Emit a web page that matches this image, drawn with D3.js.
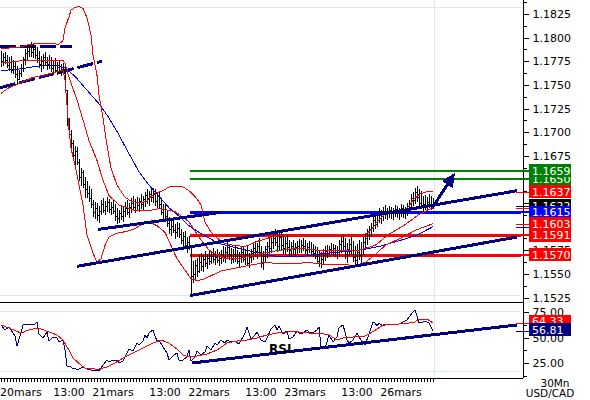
<!DOCTYPE html>
<html><head><meta charset="utf-8">
<script src="https://cdn.jsdelivr.net/npm/d3@7/dist/d3.min.js"></script>
<style>
body{margin:0;background:#fff}
svg{display:block}
text{font-family:"DejaVu Sans",Verdana,sans-serif}
</style>
</head><body>
<svg id="c" width="590" height="400"></svg>
<script>
// ---------- DATA ----------
// bar index 0 = 20 mars 00:00, one bar = 30 minutes
const firstBar = -8;
// [high, low, close]
const ohlc = [
[1.1786,1.1769,1.1775],[1.1784,1.1770,1.1779],[1.1785,1.1772,1.1776],[1.1782,1.1768,1.1771],
[1.1780,1.1765,1.1774],[1.1781,1.1763,1.1766],[1.1776,1.1761,1.1770],[1.1774,1.1757,1.1762],
[1.1770,1.1751,1.1756],[1.1766,1.1755,1.1763],[1.1772,1.1758,1.1768],[1.1780,1.1764,1.1777],
[1.1788,1.1771,1.1784],[1.1791,1.1776,1.1786],[1.1793,1.1779,1.1790],[1.1795,1.1780,1.1785],
[1.1794,1.1778,1.1788],[1.1792,1.1777,1.1782],[1.1790,1.1773,1.1778],[1.1786,1.1768,1.1772],
[1.1781,1.1764,1.1775],[1.1783,1.1767,1.1779],[1.1785,1.1770,1.1774],[1.1780,1.1766,1.1772],
[1.1782,1.1767,1.1776],[1.1779,1.1764,1.1768],[1.1776,1.1762,1.1771],[1.1778,1.1763,1.1766],
[1.1774,1.1760,1.1769],[1.1775,1.1761,1.1764],[1.1772,1.1759,1.1767],[1.1773,1.1760,1.1763],
[1.1769,1.1742,1.1745],[1.1745,1.1707,1.1712],[1.1715,1.1693,1.1698],[1.1702,1.1682,1.1688],
[1.1692,1.1672,1.1676],[1.1685,1.1663,1.1680],[1.1684,1.1665,1.1668],[1.1672,1.1648,1.1652],
[1.1662,1.1643,1.1658],[1.1660,1.1641,1.1645],[1.1652,1.1630,1.1640],[1.1648,1.1630,1.1636],
[1.1643,1.1626,1.1630],[1.1640,1.1620,1.1624],[1.1628,1.1610,1.1615],[1.1626,1.1608,1.1620],
[1.1625,1.1606,1.1612],[1.1622,1.1604,1.1617],[1.1628,1.1612,1.1624],[1.1630,1.1614,1.1618],
[1.1627,1.1612,1.1622],[1.1631,1.1615,1.1626],[1.1629,1.1614,1.1619],[1.1626,1.1612,1.1621],
[1.1628,1.1613,1.1617],[1.1624,1.1606,1.1611],[1.1620,1.1603,1.1609],[1.1618,1.1604,1.1614],
[1.1622,1.1607,1.1611],[1.1621,1.1605,1.1617],[1.1626,1.1610,1.1620],[1.1628,1.1612,1.1616],
[1.1625,1.1609,1.1621],[1.1630,1.1614,1.1625],[1.1632,1.1617,1.1621],[1.1629,1.1614,1.1626],
[1.1631,1.1618,1.1623],[1.1630,1.1616,1.1627],[1.1634,1.1619,1.1624],[1.1632,1.1617,1.1629],
[1.1637,1.1621,1.1633],[1.1640,1.1624,1.1630],[1.1638,1.1622,1.1635],[1.1642,1.1626,1.1631],
[1.1641,1.1625,1.1636],[1.1640,1.1622,1.1627],[1.1636,1.1620,1.1632],[1.1638,1.1619,1.1624],
[1.1630,1.1612,1.1616],[1.1624,1.1607,1.1619],[1.1625,1.1608,1.1611],[1.1618,1.1600,1.1604],
[1.1610,1.1592,1.1597],[1.1607,1.1590,1.1601],[1.1608,1.1593,1.1596],[1.1603,1.1587,1.1594],
[1.1605,1.1589,1.1599],[1.1604,1.1588,1.1592],[1.1598,1.1582,1.1586],[1.1594,1.1578,1.1590],
[1.1595,1.1576,1.1581],[1.1589,1.1572,1.1584],[1.1590,1.1575,1.1579],[1.1579,1.1528,1.1548],
[1.1564,1.1540,1.1550],[1.1565,1.1543,1.1559],[1.1567,1.1547,1.1553],[1.1570,1.1551,1.1563],
[1.1572,1.1553,1.1558],[1.1570,1.1552,1.1566],[1.1574,1.1557,1.1562],[1.1571,1.1555,1.1567],
[1.1575,1.1559,1.1564],[1.1574,1.1560,1.1569],[1.1577,1.1561,1.1566],[1.1574,1.1559,1.1568],
[1.1576,1.1562,1.1565],[1.1573,1.1558,1.1567],[1.1575,1.1560,1.1571],[1.1580,1.1563,1.1568],
[1.1578,1.1561,1.1573],[1.1584,1.1566,1.1578],[1.1582,1.1565,1.1570],[1.1577,1.1560,1.1566],
[1.1576,1.1562,1.1571],[1.1579,1.1563,1.1567],[1.1575,1.1560,1.1564],[1.1573,1.1557,1.1569],
[1.1578,1.1562,1.1573],[1.1580,1.1563,1.1566],[1.1576,1.1559,1.1571],[1.1579,1.1558,1.1562],
[1.1572,1.1556,1.1568],[1.1576,1.1561,1.1572],[1.1582,1.1565,1.1577],[1.1585,1.1568,1.1574],
[1.1583,1.1566,1.1579],[1.1588,1.1570,1.1573],[1.1579,1.1556,1.1562],[1.1574,1.1554,1.1569],
[1.1580,1.1562,1.1576],[1.1584,1.1567,1.1580],[1.1588,1.1571,1.1577],[1.1590,1.1572,1.1584],
[1.1594,1.1576,1.1588],[1.1597,1.1579,1.1584],[1.1594,1.1573,1.1580],[1.1596,1.1575,1.1589],
[1.1593,1.1574,1.1581],[1.1590,1.1571,1.1577],[1.1589,1.1570,1.1583],[1.1591,1.1573,1.1578],
[1.1586,1.1569,1.1575],[1.1584,1.1568,1.1579],[1.1586,1.1570,1.1576],[1.1583,1.1569,1.1578],
[1.1585,1.1571,1.1580],[1.1587,1.1572,1.1577],[1.1586,1.1572,1.1581],[1.1588,1.1574,1.1579],
[1.1586,1.1571,1.1575],[1.1583,1.1569,1.1578],[1.1585,1.1572,1.1576],[1.1584,1.1570,1.1574],
[1.1582,1.1568,1.1572],[1.1580,1.1566,1.1569],[1.1578,1.1560,1.1564],[1.1575,1.1557,1.1562],
[1.1573,1.1556,1.1566],[1.1576,1.1559,1.1570],[1.1579,1.1564,1.1574],[1.1581,1.1567,1.1572],
[1.1580,1.1568,1.1576],[1.1583,1.1570,1.1575],[1.1582,1.1569,1.1577],[1.1581,1.1568,1.1573],
[1.1579,1.1566,1.1575],[1.1586,1.1568,1.1582],[1.1590,1.1572,1.1585],[1.1592,1.1574,1.1580],
[1.1588,1.1566,1.1571],[1.1583,1.1562,1.1576],[1.1587,1.1569,1.1582],[1.1589,1.1570,1.1575],
[1.1585,1.1563,1.1568],[1.1580,1.1558,1.1565],[1.1582,1.1560,1.1573],[1.1586,1.1565,1.1570],
[1.1584,1.1559,1.1576],[1.1589,1.1570,1.1584],[1.1592,1.1576,1.1588],[1.1597,1.1581,1.1594],
[1.1601,1.1586,1.1597],[1.1604,1.1589,1.1600],[1.1610,1.1594,1.1607],[1.1614,1.1598,1.1603],
[1.1616,1.1600,1.1612],[1.1620,1.1604,1.1609],[1.1618,1.1603,1.1614],[1.1621,1.1606,1.1617],
[1.1623,1.1608,1.1613],[1.1620,1.1607,1.1616],[1.1622,1.1609,1.1618],[1.1621,1.1608,1.1614],
[1.1620,1.1607,1.1617],[1.1623,1.1610,1.1619],[1.1622,1.1609,1.1615],[1.1620,1.1607,1.1618],
[1.1624,1.1610,1.1620],[1.1623,1.1609,1.1616],[1.1621,1.1608,1.1619],[1.1625,1.1611,1.1622],
[1.1628,1.1614,1.1625],[1.1634,1.1619,1.1630],[1.1637,1.1622,1.1628],[1.1641,1.1624,1.1637],
[1.1643,1.1626,1.1631],[1.1640,1.1620,1.1625],[1.1638,1.1619,1.1622],[1.1632,1.1617,1.1624],
[1.1633,1.1618,1.1621],[1.1631,1.1617,1.1626],[1.1634,1.1620,1.1623],[1.1632,1.1618,1.1624],
[1.1630,1.1619,1.1622]
];
// Bollinger bands (20,2) and moving average, [bar, price]
const bbUpper = [[-8,1.1789],[-4,1.1789],[2,1.1790],[6,1.1793],[14,1.1794],[21,1.1793],[23,1.1797],[24,1.1810],[26,1.1822],[27,1.1829],[29,1.1832],[31,1.1833],[33,1.1831],[35,1.1821],[37,1.1803],[38,1.1782],[40,1.1760],[41,1.1739],[43,1.1715],[45,1.1686],[47,1.1662],[50,1.1644],[54,1.1631],[57,1.1627],[61,1.1625],[65,1.1627],[67,1.1632],[70,1.1636],[73,1.1638],[76,1.1642],[80,1.1643],[83,1.1642],[86,1.1638],[89,1.1632],[92,1.1623],[94,1.1605],[97,1.1594],[100,1.1588],[104,1.1582],[109,1.1580],[114,1.1579],[121,1.1585],[129,1.1590],[136,1.1592],[144,1.1591],[151,1.1590],[159,1.1590],[166,1.1591],[174,1.1592],[177,1.1596],[180,1.1605],[184,1.1613],[187,1.1615],[191,1.1616],[195,1.1619],[198,1.1628],[201,1.1634],[205,1.1637],[208,1.1637]];
const bbMiddle = [[-8,1.1773],[4,1.1776],[23,1.1776],[24,1.1773],[26,1.1758],[30,1.1734],[33,1.1713],[36,1.1691],[40,1.1670],[43,1.1649],[46,1.1633],[51,1.1623],[59,1.1617],[66,1.1617],[71,1.1619],[79,1.1616],[86,1.1605],[91,1.1589],[96,1.1575],[104,1.1566],[111,1.1566],[121,1.1571],[131,1.1575],[141,1.1577],[151,1.1575],[161,1.1575],[171,1.1575],[179,1.1580],[186,1.1592],[194,1.1602],[201,1.1613],[208,1.1620]];
const bbLower = [[-8,1.1741],[-4,1.1747],[2,1.1752],[5,1.1755],[8,1.1758],[13,1.1760],[20,1.1764],[23,1.1766],[24,1.1755],[25,1.1729],[26,1.1702],[27,1.1683],[29,1.1665],[31,1.1644],[33,1.1623],[35,1.1591],[38,1.1572],[40,1.1562],[42,1.1566],[44,1.1580],[46,1.1589],[50,1.1593],[55,1.1595],[59,1.1598],[62,1.1602],[66,1.1605],[70,1.1601],[74,1.1594],[77,1.1580],[80,1.1566],[84,1.1554],[87,1.1545],[90,1.1543],[93,1.1544],[97,1.1548],[102,1.1553],[109,1.1556],[116,1.1559],[124,1.1562],[131,1.1561],[139,1.1561],[146,1.1562],[154,1.1560],[161,1.1560],[169,1.1559],[174,1.1562],[179,1.1570],[184,1.1580],[189,1.1585],[194,1.1590],[199,1.1596],[204,1.1600],[208,1.1603]];
const maBlue = [[-8,1.1765],[2,1.1767],[11,1.1770],[21,1.1770],[24,1.1768],[29,1.1759],[36,1.1742],[41,1.1730],[46,1.1715],[51,1.1697],[55,1.1681],[61,1.1658],[66,1.1644],[71,1.1632],[76,1.1620],[81,1.1611],[86,1.1601],[91,1.1594],[96,1.1588],[101,1.1582],[111,1.1577],[121,1.1572],[131,1.1568],[141,1.1568],[151,1.1571],[161,1.1573],[171,1.1575],[181,1.1579],[191,1.1585],[200,1.1591],[208,1.1600]];
// RSI and its moving average, [bar, value]
const rsi = [[-8,62.3],[-6,57.4],[-4,60.3],[-1,51.5],[0,41.7],[2,54.4],[3,62.3],[5,62.3],[6,63.2],[9,63.2],[10,65.2],[11,53.4],[13,49.5],[15,55.4],[16,46.6],[18,50.5],[20,49.5],[21,45.6],[23,47.5],[24,37.7],[25,22.1],[27,21.1],[28,19.1],[29,20.1],[30,18.1],[32,20.1],[34,20.1],[35,19.1],[37,18.1],[40,17.2],[41,17.2],[43,23.0],[45,27.9],[46,26.0],[48,27.9],[50,27.9],[51,25.0],[53,27.0],[55,34.8],[56,38.7],[58,36.8],[60,44.6],[61,42.6],[63,46.6],[64,52.5],[65,49.5],[66,54.4],[68,57.4],[69,51.5],[70,46.6],[71,47.5],[73,40.7],[75,34.8],[76,27.9],[78,31.9],[80,34.8],[81,27.9],[83,27.9],[85,30.9],[86,37.7],[87,27.0],[89,30.9],[90,36.8],[92,32.8],[94,35.8],[95,41.7],[97,37.7],[99,44.6],[100,42.6],[102,47.5],[104,44.6],[105,47.5],[107,45.6],[109,46.6],[111,43.6],[114,54.4],[115,60.3],[117,48.5],[119,52.5],[120,55.4],[122,47.5],[124,45.6],[125,49.5],[127,58.3],[129,62.3],[130,57.4],[131,61.3],[133,53.4],[135,56.4],[136,48.5],[138,50.5],[140,56.4],[141,54.4],[143,54.4],[145,57.4],[146,55.4],[148,54.4],[150,57.4],[151,60.3],[152,40.7],[154,38.7],[155,45.6],[156,52.5],[158,45.6],[160,50.5],[161,59.3],[163,62.3],[164,55.4],[165,47.5],[166,44.6],[168,47.5],[170,54.4],[171,50.5],[173,44.6],[174,42.6],[176,53.4],[178,65.2],[179,64.2],[180,61.3],[181,64.2],[183,61.3],[185,63.2],[186,63.2],[189,63.2],[191,63.2],[193,65.2],[195,67.2],[196,70.1],[198,75.0],[199,77.0],[200,71.1],[201,64.2],[203,65.2],[205,65.2],[206,64.2],[208,56.81]];
const rsiMa = [[-8,62.3],[-4,59.3],[2,54.4],[6,57.4],[10,59.3],[12,58.3],[16,55.4],[20,52.5],[23,47.5],[26,37.7],[28,29.9],[32,23.0],[34,20.1],[39,19.1],[41,19.1],[45,21.1],[49,25.0],[53,29.9],[58,34.8],[63,39.7],[68,44.6],[72,47.5],[76,44.6],[80,38.7],[83,32.8],[86,30.9],[90,31.9],[95,33.8],[100,37.7],[105,44.6],[110,46.6],[115,47.5],[120,49.5],[125,52.5],[130,54.4],[135,55.4],[141,55.4],[146,54.4],[151,54.4],[156,52.5],[160,47.5],[163,49.5],[168,50.5],[173,50.5],[176,53.4],[180,58.3],[183,62.3],[186,63.2],[191,63.2],[196,64.2],[199,65.2],[201,68.1],[205,68.1],[208,64.33]];

const xTickBars = [0,26,48,74,96,122,144,170,192];
const xTickLabels = ["20mars","13:00","21mars","13:00","22mars","13:00","23mars","13:00","26mars"];
const priceTicks = [1.1525,1.1550,1.1575,1.1600,1.1625,1.1650,1.1675,1.1700,1.1725,1.1750,1.1775,1.1800,1.1825];
const rsiTickValues = [25,50,75];

// horizontal support/resistance levels
const levelValues = [1.1659,1.1650,1.1615,1.1591,1.1570];
const levelColors = ["#008000","#008000","#0000ff","#ff0000","#ff0000"];
const levelStartBar = 86.5;
// trend lines [[bar, price],[bar, price]]
const dashedTrendLines = [
  [[-8.5,1.1791],[27.5,1.1791]],
  [[-8.5,1.1747],[42.5,1.1775]]
];
const trendLines = [
  [[40.5,1.1597],[101.5,1.1615]],
  [[30,1.1558],[250,1.1638]],
  [[86.5,1.1527],[250,1.1589]]
];
const arrowLine = [[208,1.1621],[219,1.1657]];
const rsiTrend = [[87.5,25.0],[250,62.3]];
// right-hand value tags (drawn in this order)
const tagValues = [1.1650,1.1659,1.1637,1.1622,1.1615,1.1603,1.1591,1.1570];
const tagColors = ["#008000","#008000","#ff0000","#000000","#0000ff","#ff0000","#ff0000","#ff0000"];
const markerValues = [1.1637,1.1620,1.1622,1.1603,1.1600];
const markerColors = ["#ff0000","#ff0000","#000000","#ff0000","#0000ff"];
const rsiTagValues = [64.33,56.81];
const rsiTagColors = ["#ff0000","#000080"];

// ---------- DRAW ----------
const svg = d3.select("#c");
const AX = 523;
const x = d3.scaleLinear().domain([-8.5, 252]).range([0, 521]);
const y = d3.scaleLinear().domain([1.1525, 1.1825]).range([297.5, 14]);
const yr = d3.scaleLinear().domain([25, 75]).range([363, 312]);
const NAVY = "#000080";

const defs = svg.append("defs");
defs.append("clipPath").attr("id","cm").append("rect").attr("x",0).attr("y",0).attr("width",521).attr("height",301);
defs.append("clipPath").attr("id","cr").append("rect").attr("x",0).attr("y",303).attr("width",521).attr("height",75);

// grid
const gridC = "#dde7ef";
[[0,7.5,521,7.5],[0,295.5,521,295.5],[0,311.5,521,311.5],[0,371.5,521,371.5],[434.5,0,434.5,378]].forEach(g=>{
  svg.append("line").attr("x1",g[0]).attr("y1",g[1]).attr("x2",g[2]).attr("y2",g[3]).attr("stroke",gridC).attr("stroke-width",1);
});

const main = svg.append("g").attr("clip-path","url(#cm)").attr("shape-rendering","crispEdges");
const lineP = d3.line().x(d=>x(d[0])).y(d=>y(d[1]));

// levels
levelValues.forEach((v,k)=>{
  main.append("line").attr("x1",x(levelStartBar)).attr("x2",521)
    .attr("y1",Math.round(y(v))).attr("y2",Math.round(y(v)))
    .attr("stroke",levelColors[k]).attr("stroke-width",levelColors[k]==="#008000"?2:3);
});

// dashed older trend lines (under the bands)
dashedTrendLines.forEach(t=>{
  main.append("path").attr("d",lineP(t)).attr("fill","none").attr("stroke",NAVY).attr("stroke-width",3).attr("stroke-dasharray","16,4");
});

// bars
const bars = main.append("g").attr("stroke","#000").attr("stroke-width",1);
ohlc.forEach((b,k)=>{
  const X = Math.round(x(firstBar+k)) + 0.5;
  bars.append("line").attr("x1",X).attr("x2",X).attr("y1",y(b[0])).attr("y2",y(b[1]));
  const yc = Math.round(y(b[2]))+0.5;
  bars.append("line").attr("x1",X).attr("x2",X+1.5).attr("y1",yc).attr("y2",yc);
  if(k>0){const yo=Math.round(y(ohlc[k-1][2]))+0.5;
    bars.append("line").attr("x1",X-1.5).attr("x2",X).attr("y1",yo).attr("y2",yo);}
});

// indicators
main.append("path").attr("d",lineP(maBlue)).attr("fill","none").attr("stroke","#0000ff").attr("stroke-width",1);
[bbUpper,bbMiddle,bbLower].forEach(s=>{
  main.append("path").attr("d",lineP(s)).attr("fill","none").attr("stroke","#ff0000").attr("stroke-width",1);
});

// trend lines
trendLines.forEach(t=>{
  main.append("path").attr("d",lineP(t)).attr("fill","none").attr("stroke",NAVY).attr("stroke-width",3);
});
// arrow
(function(){
  const x1=x(arrowLine[0][0]), y1=y(arrowLine[0][1]), x2=x(arrowLine[1][0]), y2=y(arrowLine[1][1]);
  const dx=x2-x1, dy=y2-y1, L=Math.hypot(dx,dy), ux=dx/L, uy=dy/L;
  const hl=14, hw=6.5;
  const bx=x2-ux*hl, by=y2-uy*hl;
  main.append("line").attr("x1",x1).attr("y1",y1).attr("x2",bx).attr("y2",by).attr("stroke",NAVY).attr("stroke-width",3);
  main.append("path").attr("d",`M${x2},${y2}L${bx-uy*hw},${by+ux*hw}L${bx+uy*hw},${by-ux*hw}Z`).attr("fill",NAVY);
})();

// RSI panel
const rs = svg.append("g").attr("clip-path","url(#cr)").attr("shape-rendering","crispEdges");
const lineR = d3.line().x(d=>x(d[0])).y(d=>yr(d[1]));
rs.append("path").attr("d",lineR(rsiTrend)).attr("fill","none").attr("stroke",NAVY).attr("stroke-width",3);
rs.append("path").attr("d",lineR(rsi)).attr("fill","none").attr("stroke",NAVY).attr("stroke-width",1);
rs.append("path").attr("d",lineR(rsiMa)).attr("fill","none").attr("stroke","#ff0000").attr("stroke-width",1);
svg.append("text").attr("x",269).attr("y",353).attr("font-size",12).attr("font-weight","bold").attr("fill","#000").text("RSI");

// panel separator & axes lines
svg.append("line").attr("x1",0).attr("x2",AX).attr("y1",302.5).attr("y2",302.5).attr("stroke","#000");
svg.append("line").attr("x1",0).attr("x2",AX).attr("y1",378.5).attr("y2",378.5).attr("stroke","#000");
svg.append("line").attr("x1",AX+0.5).attr("x2",AX+0.5).attr("y1",0).attr("y2",378).attr("stroke","#000");

// price axis
function rightAxis(scale, major, minor, fmt){
  const g1 = svg.append("g").attr("transform",`translate(${AX+0.5},0)`).attr("shape-rendering","crispEdges");
  g1.call(d3.axisRight(scale).tickValues(major).tickFormat(d3.format(fmt)).tickSize(5).tickPadding(4));
  g1.select(".domain").remove();
  g1.selectAll("text").attr("font-size",11).attr("fill","#000").style("font-family","DejaVu Sans");
  const g2 = svg.append("g").attr("transform",`translate(${AX+0.5},0)`).attr("shape-rendering","crispEdges");
  g2.call(d3.axisRight(scale).tickValues(minor).tickFormat("").tickSize(3));
  g2.select(".domain").remove();
}
rightAxis(y, priceTicks, priceTicks.map(v=>v+0.00125), ".4f");
rightAxis(yr, rsiTickValues, [12.5,37.5,62.5], ".2f");

// indicator markers at the axis
markerValues.forEach((v,k)=>{
  svg.append("line").attr("x1",516).attr("x2",529).attr("y1",Math.round(y(v))+0.5).attr("y2",Math.round(y(v))+0.5)
    .attr("stroke",markerColors[k]).attr("stroke-width",1);
});
levelValues.forEach((v,k)=>{
  svg.append("line").attr("x1",521).attr("x2",529).attr("y1",Math.round(y(v))).attr("y2",Math.round(y(v)))
    .attr("stroke",levelColors[k]).attr("stroke-width",2);
});
[rsiMa[rsiMa.length-1][1], rsi[rsi.length-1][1]].forEach((v,k)=>{
  svg.append("line").attr("x1",516).attr("x2",529).attr("y1",Math.round(yr(v))+0.5).attr("y2",Math.round(yr(v))+0.5)
    .attr("stroke",k?NAVY:"#ff0000");
});

// value tags
function tag(cy, color, label){
  svg.append("rect").attr("x",529).attr("y",Math.round(cy-6.5)).attr("width",42).attr("height",13).attr("fill",color);
  svg.append("text").attr("x",532).attr("y",cy).attr("dy","0.36em").attr("font-size",11).attr("fill","#fff").text(label);
}
tagValues.forEach((v,k)=>tag(y(v), tagColors[k], d3.format(".4f")(v)));
rsiTagValues.forEach((v,k)=>tag(k===0?yr(v)-1.5:yr(v)-1, rsiTagColors[k], d3.format(".2f")(v)));

// x axis
const gx = svg.append("g").attr("shape-rendering","crispEdges");
d3.range(-8, 209, 1.5).forEach(b=>{
  const X=Math.round(x(b))+0.5;
  gx.append("line").attr("x1",X).attr("x2",X).attr("y1",378).attr("y2",382).attr("stroke","#000");
});
xTickBars.forEach((b,k)=>{
  const t = svg.append("text").attr("x",x(b)).attr("y",396).attr("text-anchor","middle").attr("font-size",11).attr("fill","#000").text(xTickLabels[k]);
  const w = t.node().getComputedTextLength();
  if (x(b)-w/2 < 0) t.attr("text-anchor","start").attr("x",0);
});
svg.append("text").attr("x",555).attr("y",387).attr("text-anchor","middle").attr("font-size",10.5).attr("fill","#000").text("30Mn");
svg.append("text").attr("x",550).attr("y",397).attr("text-anchor","middle").attr("font-size",10.5).attr("fill","#000").text("USD/CAD");
</script>
</body></html>
